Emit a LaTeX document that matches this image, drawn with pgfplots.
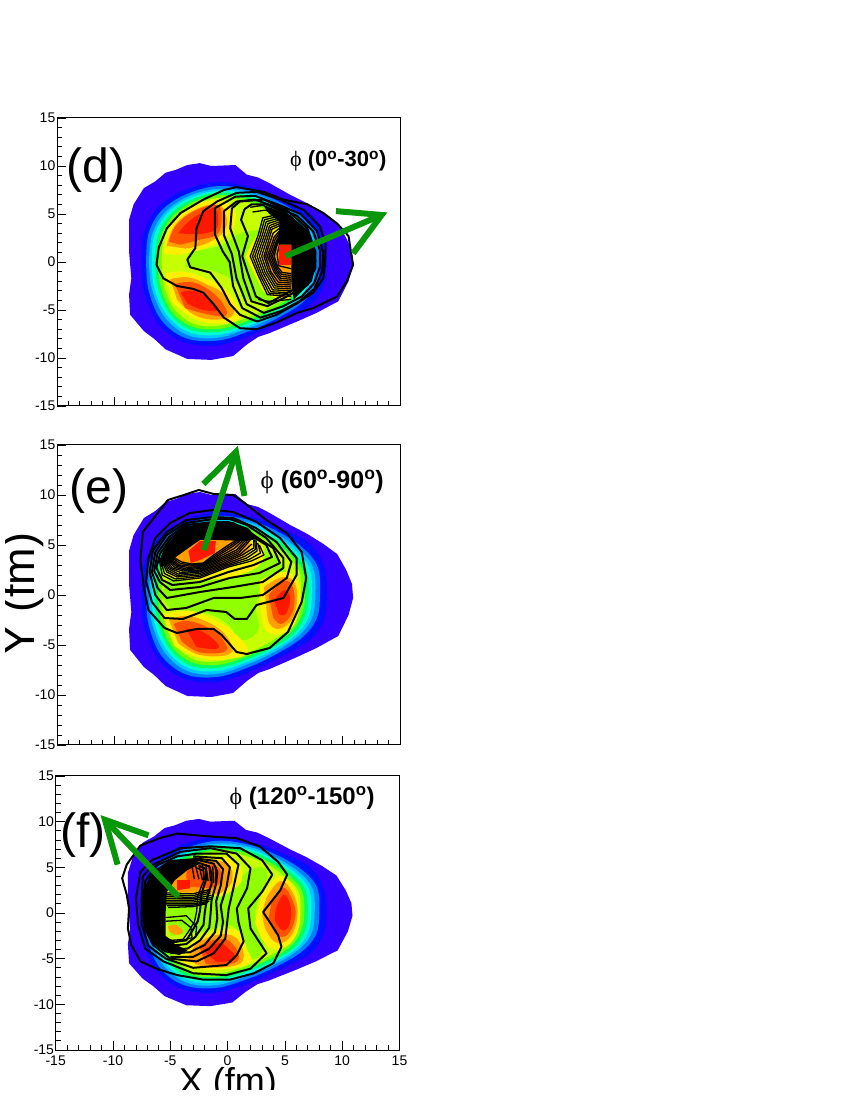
\documentclass[border=0pt]{standalone}
\usepackage{fontspec}
\setmainfont{Liberation Sans}
\newfontfamily\symf{Liberation Serif}
\usepackage{pgfplots}
\usepackage{pgfplotstable}
\pgfplotsset{compat=1.18}

\newcommand\fs[1]{\fontsize{#1}{#1}\selectfont}

% palette
\definecolor{c0}{HTML}{3300FF}
\definecolor{c1}{HTML}{0010FF}
\definecolor{c2}{HTML}{0080FF}
\definecolor{c3}{HTML}{00C8FF}
\definecolor{c4}{HTML}{00FFD0}
\definecolor{c5}{HTML}{00FF60}
\definecolor{c6}{HTML}{70FF00}
\definecolor{c7}{HTML}{C8FF00}
\definecolor{lime}{HTML}{90FF00}
\definecolor{yel}{HTML}{FFF000}
\definecolor{ora}{HTML}{FFA000}
\definecolor{ror}{HTML}{FF5000}
\definecolor{red1}{HTML}{FF1800}
\definecolor{arrowg}{HTML}{0A960A}

% contour levels shared by the three panels
\pgfplotstableread[row sep=\\]{x y\\ -8.7 4.4\\ -8.3 6\\ -7.4 7.7\\ -6.4 8.4\\ -5.5 9.3\\ -4.6 9.6\\ -3.6 10.1\\ -2.5 10.3\\ -1.5 10\\ 0.6 10.1\\ 1.6 9.1\\ 2.6 8.8\\ 3.6 8.2\\ 5.4 7\\ 6.9 6.1\\ 8.3 5.1\\ 9.5 4.1\\ 10.3 2.5\\ 10.8 1.1\\ 10.9 -0.3\\ 10.5 -2\\ 9.6 -4.1\\ 8.8 -4.6\\ 7.7 -5.3\\ 6 -6.2\\ 3.6 -7.4\\ 2.6 -7.8\\ 1.6 -8.6\\ 0.4 -9.8\\ -1.5 -10.2\\ -3.6 -10.1\\ -5.5 -9.1\\ -6.5 -8\\ -7.4 -7.2\\ -8.6 -5.5\\ -8.7 -3.4\\ -8.5 -1.7\\ -8.7 1.1\\ -8.7 4.4\\}\ringO
\pgfplotstableread[row sep=\\]{x y\\ -7.6 0\\ -7.4 3\\ -6.2 5.6\\ -4 7.4\\ -1 8.3\\ 2 7.8\\ 4.5 6.7\\ 7 5.2\\ 8.3 3\\ 8.6 0\\ 8.3 -2.6\\ 7 -4.6\\ 4.5 -6.2\\ 2 -7.6\\ -1 -8.7\\ -4 -8.3\\ -6.2 -6.3\\ -7.4 -3\\ -7.6 0\\}\ringA
\pgfplotstableread[row sep=\\]{x y\\ -7.2 0\\ -7 2.9\\ -5.9 5.3\\ -3.8 7\\ -1 7.9\\ 1.8 7.5\\ 4.2 6.4\\ 6.4 4.8\\ 7.8 2.8\\ 8 0\\ 7.7 -2.4\\ 6.4 -4.3\\ 4.2 -5.9\\ 1.8 -7.2\\ -1 -8.2\\ -3.8 -7.9\\ -5.9 -6\\ -7 -2.9\\ -7.2 0\\}\ringB
\pgfplotstableread[row sep=\\]{x y\\ -6.95 0\\ -6.7 2.8\\ -5.6 5.1\\ -3.6 6.8\\ -1 7.6\\ 1.7 7.3\\ 4 6.2\\ 6.1 4.6\\ 7.4 2.7\\ 7.6 0\\ 7.3 -2.3\\ 6.1 -4.1\\ 4 -5.7\\ 1.7 -6.9\\ -1 -7.9\\ -3.6 -7.6\\ -5.6 -5.7\\ -6.7 -2.8\\ -6.95 0\\}\ringC
\pgfplotstableread[row sep=\\]{x y\\ -6.7 0\\ -6.5 2.7\\ -5.4 5\\ -3.5 6.6\\ -1 7.4\\ 1.6 7.1\\ 3.9 6\\ 5.9 4.4\\ 7.1 2.6\\ 7.3 0\\ 7 -2.2\\ 5.9 -4\\ 3.9 -5.5\\ 1.6 -6.7\\ -1 -7.6\\ -3.5 -7.3\\ -5.4 -5.5\\ -6.5 -2.7\\ -6.7 0\\}\ringD
\pgfplotstableread[row sep=\\]{x y\\ -6.4 0\\ -6.2 2.6\\ -5.2 4.8\\ -3.4 6.4\\ -1 7.2\\ 1.5 6.9\\ 3.8 5.8\\ 5.7 4.2\\ 6.8 2.5\\ 7 0\\ 6.7 -2.1\\ 5.7 -3.9\\ 3.8 -5.3\\ 1.5 -6.5\\ -1 -7.3\\ -3.4 -7\\ -5.2 -5.3\\ -6.2 -2.6\\ -6.4 0\\}\ringE
\pgfplotstableread[row sep=\\]{x y\\ -6.15 0\\ -5.95 2.5\\ -5 4.6\\ -3.25 6.15\\ -1 6.95\\ 1.4 6.65\\ 3.6 5.6\\ 5.45 4\\ 6.5 2.4\\ 6.7 0\\ 6.4 -2\\ 5.45 -3.7\\ 3.6 -5.1\\ 1.4 -6.25\\ -1 -7\\ -3.25 -6.7\\ -5 -5.1\\ -5.95 -2.5\\ -6.15 0\\}\ringF
\pgfplotstableread[row sep=\\]{x y\\ -5.85 0\\ -5.65 2.4\\ -4.75 4.4\\ -3.1 5.9\\ -1 6.65\\ 1.3 6.35\\ 3.4 5.35\\ 5.15 3.8\\ 6.2 2.3\\ 6.35 0\\ 6.1 -1.9\\ 5.15 -3.5\\ 3.4 -4.85\\ 1.3 -5.95\\ -1 -6.65\\ -3.1 -6.4\\ -4.75 -4.85\\ -5.65 -2.4\\ -5.85 0\\}\ringG

\newcommand\lev[2]{\addplot[fill=#1,draw=none,smooth,tension=0.6] table {#2};}
\newcommand\blob[2]{\addplot[fill=#1,draw=none,smooth,tension=0.7] coordinates {#2} -- cycle;}
\newcommand\poly[2]{\addplot[fill=#1,draw=none] coordinates {#2} -- cycle;}
\newcommand\con[1]{\addplot[black,line width=2pt,line join=round] coordinates {#1};}
\newcommand\thin[1]{\addplot[black,line width=1.3pt,line join=round] coordinates {#1};}
\newcommand\arrowline[1]{\addplot[arrowg,line width=6pt,line join=miter] coordinates {#1};}
\newcommand\rings{\addplot[fill=c0,draw=none] table {\ringO};\lev{c1}{\ringA}\lev{c2}{\ringB}\lev{c3}{\ringC}\lev{c4}{\ringD}\lev{c5}{\ringE}\lev{c6}{\ringF}\lev{c7}{\ringG}}

\pgfplotsset{panel/.style={
  scale only axis,width=343pt,
  xmin=-15,xmax=15,ymin=-15,ymax=15,
  xtick={-15,-10,...,15},ytick={-15,-10,...,15},
  minor x tick num=4,minor y tick num=4,
  tick pos=left,tick align=inside,
  major tick length=9pt,minor tick length=5pt,
  tick style={black,line width=0.8pt},
  axis line style={line width=1pt},
  axis on top,
  clip mode=individual,
  /pgf/number format/assume math mode=true,
  ticklabel style={font=\fs{14}},
  yticklabel style={inner sep=1.5pt},
  xticklabel style={inner sep=6pt},
  anchor=south west,
}}

\begin{document}
\begin{tikzpicture}
\path[use as bounding box] (0,0) rectangle (850pt,1100pt);

% ---------- panel d
\begin{axis}[panel,at={(57pt,694pt)},height=288pt,xticklabels={}]
\rings
\blob{lime}{(-3.5,1) (-0.5,1.8) (1,3) (3,3.5) (5,5) (5,-3) (2,-4) (0.5,-2) (-1.5,-0.9) (-3.8,-0.5)}
\blob{yel}{(-5.6,0.9) (-5.2,3.5) (-3.3,5.7) (-1,6.4) (0.5,5.5) (0.4,3.5) (-1,2) (-3,1.1) (-4.5,0.7)}
\blob{ora}{(-5.4,1.7) (-4.7,3.8) (-3,5.4) (-1,6) (-0.2,4.8) (-0.4,3.2) (-2,1.9) (-3.8,1.4)}
\blob{ror}{(-5.2,2.1) (-4.6,3.8) (-3,5.3) (-1,5.9) (-0.6,4.6) (-1,2.9) (-2.6,2.3) (-4.2,1.8)}
\blob{red1}{(-4.4,3) (-3.4,4.3) (-2,5.3) (-1.1,5.5) (-1,3.6) (-2,3) (-3.4,2.9)}
\blob{yel}{(-5.5,-1.2) (-4,-1) (-2,-1.7) (-0.3,-2.8) (1,-5) (0.7,-6.1) (-1,-6.4) (-3,-5.9) (-4.9,-4.2)}
\blob{ora}{(-5.1,-1.8) (-3.5,-1.6) (-1.8,-2.4) (-0.5,-3.3) (0.5,-5.3) (-1,-6) (-3,-5.5) (-4.5,-3.9)}
\blob{ror}{(-4.7,-2.3) (-3.2,-2.1) (-1.6,-3) (-0.4,-4.5) (-0.3,-5.6) (-2,-5.4) (-3.8,-4.8)}
\blob{red1}{(-4.2,-3.2) (-3,-3) (-1.7,-3.9) (-0.9,-5) (-2.2,-5) (-3.5,-4.4)}
\blob{yel}{(1.5,0.6) (3,3.5) (5,4.5) (6,2) (6,-2) (5,-4) (3,-3)}
\blob{ora}{(3,0.6) (4,2.8) (5.5,3) (5.8,-3) (4,-2)}
% contour lines
\con{(10.9,-0.3) (10.35,-2) (9.5,-3.6) (7.4,-4.8) (6,-5.3) (4.2,-6.3) (2.5,-7) (1,-6.9) (-0.4,-5.8) (-1.3,-4.4) (-2.2,-3.2) (-3.1,-2.8) (-4.5,-2.5) (-5.7,-1.7) (-6.3,-0.3) (-6.1,1.5) (-5.4,3.5) (-4.2,5.1) (-2.2,6.5) (-0.4,7.5) (0.7,7.8) (3.1,7.3) (4.8,6.5) (6.9,6) (8.3,5.1) (9.5,4) (10.5,2.7) (10.7,1.1) (10.9,-0.3)}
\con{(8.45,0.1) (8.3,-1.7) (7.4,-3.2) (6,-4.3) (4.2,-5.5) (2.5,-6.2) (1,-5.5) (0.15,-4.4) (-0.6,-2.7) (-1.6,-1.1) (-3.35,-0.55) (-3.6,0.25) (-2.9,1.45) (-2.8,3.5) (-2.2,5.3) (-1,6.3) (0.7,7.2) (2.5,7.3) (4.5,6.5) (6.6,5.4) (8,3.7) (8.5,1.8) (8.45,0.1)}
\con{(-1.2,5.6) (-1.2,2.9) (-0.5,1.1) (0.1,0) (0.4,-2.5) (1.2,-4.8) (2.8,-5.8) (4.6,-5.1) (6.2,-4.1) (7.5,-2.8) (8.2,-1) (8.3,1) (7.7,3.3) (6.3,5) (4.3,6) (2.3,6.9) (0.6,6.8) (-1.2,5.6)}
\con{(-0.4,5.3) (-0.4,2.8) (0.3,0.8) (0.7,-1.7) (1.6,-4.4) (3.1,-5.3) (4.8,-4.6) (6.4,-3.6) (7.5,-2.2) (8,-0.5) (8,1.2) (7.4,3.2) (6,4.8) (4.2,5.7) (2.3,6.5) (0.7,6.3) (-0.4,5.3)}
\con{(0.3,5.6) (0.15,3.5) (0.9,1.1) (1.3,-1.7) (2,-4.1) (3.4,-4.6) (5.1,-3.6) (6.9,-2.4) (7.6,-0.6) (7.6,1.1) (6.9,3.5) (5.1,5.4) (3.1,6.5) (1,6.3) (0.3,5.6)}
\con{(1.4,5.5) (1.1,4.4) (1.7,2.7) (1.2,0.6) (1.7,-1.2) (2.4,-3.6) (3.5,-4.3) (5,-3.3) (6.8,-2.2) (7.5,-0.6) (7.5,1.1) (6.8,3.3) (5,5.1) (3.3,6) (2,6) (1.4,5.5)}
\thin{(1.9,5.7) (3,5.9) (4.5,5.2)}
\thin{(2.1,5.2) (3.2,5.4) (4.5,4.9)}
\thin{(2.6,-3.9) (3.5,-4.1) (5.5,-3.9)}
\thin{(4.5,5.0) (3,4.6) (2.6,2.8) (1.9,0.6) (2.6,-1.4) (3.4,-3.4) (5.5,-3.6)}
\thin{(4.5,4.8) (3.15,4.4) (2.75,2.7) (2.1,0.6) (2.75,-1.35) (3.55,-3.25) (5.5,-3.4)}
\thin{(4.5,4.6) (3.3,4.2) (2.9,2.6) (2.3,0.6) (2.9,-1.3) (3.7,-3.1) (5.5,-3.2)}
\thin{(4.5,4.4) (3.45,4) (3.05,2.5) (2.5,0.6) (3.05,-1.2) (3.85,-2.9) (5.5,-3)}
\thin{(4.5,4.2) (3.6,3.8) (3.2,2.4) (2.7,0.6) (3.2,-1.1) (4,-2.7) (5.5,-2.8)}
\thin{(4.5,4) (3.7,3.6) (3.35,2.3) (2.9,0.6) (3.35,-1) (4.1,-2.5) (5.5,-2.6)}
\thin{(4.5,3.8) (3.8,3.4) (3.5,2.2) (3.1,0.6) (3.5,-0.9) (4.2,-2.3) (5.5,-2.4)}
\thin{(4.5,3.55) (3.9,3) (3.45,1.4) (3.25,0.6) (3.7,-1) (4.35,-2.1) (5.5,-2.2)}
\thin{(4.5,3.3) (4,2.6) (3.4,0.6) (4,-1.1) (4.5,-1.9) (5.5,-2)}
\thin{(4.5,3.1) (4.1,2.4) (3.55,0.6) (4.1,-1) (4.55,-1.7) (5.5,-1.8)}
\thin{(4.5,2.9) (4.2,2.2) (3.7,0.6) (4.2,-0.9) (4.6,-1.5) (5.5,-1.6)}
\thin{(4.5,2.7) (4.2,1.9) (3.85,0.6) (4.25,-0.7) (4.65,-1.3) (5.5,-1.4)}
\thin{(4.5,2.5) (4.2,1.6) (4,0.6) (4.3,-0.5) (4.7,-1.1) (5.5,-1.2)}
\thin{(4.5,2) (4.25,0.8) (4.4,-0.4) (5.5,-0.7)}
\poly{black}{(3.1,5.8) (5.4,4.9) (7.1,2.8) (7.7,0.1) (7.3,-2) (5.7,-3.9) (5.5,-2) (5.5,1.8) (4.4,1.8) (4.45,4.2) (3.5,5.1)}
\poly{red1}{(4.4,1.8) (5.5,1.8) (5.5,-0.3) (4.4,-0.3)}
\arrowline{(5,0.6) (13.4,4.9)}
\arrowline{(9.4,5.3) (13.4,4.9) (10.9,0.9)}
\node[font=\fs{48}] at (axis cs:-11.6,9.6) {(d)};
\node[font=\fs{22}\bfseries] at (axis cs:9.6,10.5) {{\symf\mdseries ϕ} (0\textsuperscript{o}-30\textsuperscript{o})};
\end{axis}

% ---------- panel e
\begin{axis}[panel,at={(57pt,355pt)},height=300pt,xticklabels={}]
\rings
\blob{lime}{(-6,0) (-4,3) (0,6) (4,4) (5,1) (2.5,-0.5) (2.6,-3.5) (1,-4.5) (0,-3) (-2,-1.8) (-5,-1.5)}
\blob{yel}{(-5.7,-2) (-3.5,-1.6) (-1,-2.6) (0.7,-4) (1.7,-5.7) (0,-6.4) (-2.5,-6.3) (-4.7,-5.1)}
\blob{ora}{(-5.2,-2.5) (-3.5,-2.1) (-1.2,-3.1) (0.1,-4.6) (0.1,-5.9) (-2.5,-6) (-4.4,-4.8)}
\blob{ror}{(-4.8,-2.9) (-3.5,-2.6) (-1.4,-3.5) (-0.3,-4.8) (-0.4,-5.7) (-2.6,-5.7) (-4.1,-4.6)}
\blob{red1}{(-3.7,-3.4) (-2.4,-3.6) (-1,-4.8) (-1.1,-5.4) (-2.8,-5.2)}
\blob{yel}{(2.7,1.4) (4.8,2.3) (6.1,1.2) (6.1,-2) (4.9,-3.8) (3.3,-3.5) (2.8,-1)}
\blob{ora}{(3.1,0.8) (4.8,1.8) (5.9,0.9) (5.8,-1.8) (4.7,-3.3) (3.6,-2.9) (3.3,-0.8)}
\blob{ror}{(3.5,0) (4.9,1.4) (5.7,0.5) (5.6,-1.7) (4.6,-2.9) (3.9,-2.2)}
\blob{red1}{(4,-0.5) (4.9,0.5) (5.4,-0.4) (5,-1.9) (4.4,-1.9)}
\blob{yel}{(-5.5,2) (-4,5.5) (2,5.5) (3,3.5) (1,2) (-2,1.5) (-4,1.5)}
\blob{ora}{(-5,3) (-4,5.5) (1.5,5.5) (1,3.5) (-1,2.5) (-3,2.2)}
\con{(-5.3,9.5) (-7.5,6.3) (-7.7,3.5) (-7.4,0.7) (-7,-1.5) (-5.6,-3.3) (-4.5,-3.8) (-2.8,-3.4) (-1.3,-3.4) (-0.6,-4) (0.7,-5.7) (1.6,-5.9) (3.6,-5.3) (5.2,-3.7) (6.4,-0.7) (6.8,1.7) (6.4,4.3) (5.1,6.2) (3.3,7.5) (1.3,9.3) (0.4,10) (-1.3,10.1) (-2.6,10.5) (-3.9,10) (-5.3,9.5)}
\con{(-1.3,8.5) (-3.4,8.2) (-5.1,7.2) (-6.4,5.7) (-7,3.7) (-7.2,1.3) (-6.7,-0.7) (-5.6,-2.3) (-4,-2.4) (-1.9,-1.5) (-0.2,-1.7) (0.55,-2.4) (1.6,-2.4) (2.45,-1) (4.8,-0.3) (5.95,2) (5.95,3.7) (4.5,5.7) (2.45,7.3) (0.4,8.3) (-1.3,8.5)}
\con{(-1.3,7.8) (-3.7,7.5) (-5.4,6.3) (-6.6,4.5) (-6.9,2.3) (-6.4,0) (-5.4,-1.5) (-3.7,-1.3) (-1.3,-0.3) (1,-0.3) (3,0) (5.1,1.7) (5.5,3.3) (4.2,5.3) (2.4,6.7) (0.4,7.7) (-1.3,7.8)}
\con{(-1.3,7.6) (-3.7,7.2) (-5.4,6) (-6.4,4.3) (-6.7,2.3) (-6.2,0.7) (-5.4,-0.3) (-2.5,0.3) (0.4,0.8) (3,1.3) (4.8,2.7) (4.8,3.7) (3.3,5.7) (1.6,7) (0.1,7.6) (-1.3,7.6)}
\con{(-1.3,7.3) (-3.7,7) (-5.2,5.8) (-6.2,4.2) (-6.5,2.4) (-6,1.3) (-5.1,0.5) (-2.5,0.8) (0.1,1.7) (2.7,2.2) (4.5,3.2) (3.9,4.7) (2.2,6) (0.4,7.2) (-1.3,7.3)}
\con{(-1.3,7.1) (-3.7,6.8) (-5.1,5.6) (-6,4.1) (-6.3,2.7) (-5.8,1.5) (-4.9,1) (-2.5,1.3) (0,2.3) (2.2,3) (3.8,3.8) (3.3,5) (1.9,6) (0.3,6.9) (-1.3,7.1)}
\thin{(-6.1,3.8) (-5.8,2) (-4.8,1.4) (-2.5,1.7) (0,2.8) (2,3.4) (3.1,4) (2.7,5)}
\thin{(-6,3.7) (-5.6,2.15) (-4.65,1.6) (-2.5,1.85) (-0.1,2.9) (1.8,3.55) (2.8,4.2) (2.55,5.2)}
\thin{(-5.9,3.6) (-5.4,2.3) (-4.5,1.8) (-2.5,2) (-0.2,3) (1.6,3.7) (2.5,4.4) (2.4,5.5)}
\thin{(-5.8,3.6) (-5.3,2.45) (-4.45,1.95) (-2.5,2.15) (-0.3,3.1) (1.4,3.85) (2.35,4.55) (2.3,5.5)}
\thin{(-5.7,3.6) (-5.2,2.6) (-4.4,2.1) (-2.5,2.3) (-0.4,3.2) (1.2,4) (2.2,4.7) (2.2,5.5)}
\thin{(-5.6,3.6) (-5.05,2.65) (-4.2,2.25) (-2.5,2.4) (-0.55,3.3) (1.05,4.1) (2.05,5.1)}
\thin{(-5.5,3.6) (-4.9,2.7) (-4,2.4) (-2.5,2.5) (-0.7,3.4) (0.9,4.2) (1.9,5.5)}
\thin{(-5.4,3.6) (-4.75,2.8) (-3.85,2.5) (-2.45,2.65) (-0.8,3.5) (0.8,4.35) (1.7,5.5)}
\thin{(-5.3,3.6) (-4.6,2.9) (-3.7,2.6) (-2.4,2.8) (-0.9,3.6) (0.7,4.5) (1.5,5.5)}
\thin{(-5.15,3.6) (-4.45,2.95) (-3.55,2.75) (-2.35,2.9) (-1,3.7) (0.5,4.65) (1.3,5.5)}
\thin{(-5,3.6) (-4.3,3) (-3.4,2.9) (-2.3,3) (-1.1,3.8) (0.3,4.8) (1.1,5.5)}
\thin{(-4.85,3.65) (-4.2,3.15) (-3.3,3) (-2.25,3.1) (-1.2,3.9) (0.15,4.9) (0.9,5.5)}
\thin{(-4.7,3.7) (-4.1,3.3) (-3.2,3.1) (-2.2,3.2) (-1.3,4) (0,5) (0.7,5.5)}
\poly{black}{(-6,3.6) (-5.5,5) (-4,6.6) (-2,7.3) (0,7.4) (1.7,6.7) (2.6,5.6) (1.5,5.4) (-1,5.5) (-2.5,5.5) (-3.5,4.7) (-4.6,3.8) (-5.1,3.2) (-5.9,2.8)}
\poly{red1}{(-2.5,5.4) (-1.1,5.4) (-1.2,4.2) (-2.5,3.5) (-3.3,3.2) (-3.5,4.4)}
\arrowline{(-2.15,4.5) (0.65,14.3)}
\arrowline{(-2.2,11.1) (0.65,14.3) (1.4,9.9)}
\node[font=\fs{48}] at (axis cs:-11.3,10.4) {(e)};
\node[font=\fs{25}\bfseries] at (axis cs:8.2,11.3) {{\symf\mdseries ϕ} (60\textsuperscript{o}-90\textsuperscript{o})};
\end{axis}

% ---------- panel f
\begin{axis}[panel,at={(55.7pt,50pt)},height=274pt,width=343.8pt]
\rings
\blob{lime}{(-5.5,1) (-3,1) (0,3) (2.5,5) (3.5,4) (2.4,0) (3.2,-3.4) (2,-5) (0.5,-1.5) (-2,-2) (-5,-2.5)}
\blob{yel}{(3,2) (4.5,4) (5.8,2.7) (6.3,0) (5.9,-2.6) (4.5,-4) (3.2,-3.2) (2.4,-1)}
\blob{ora}{(3.4,1.7) (4.6,3.5) (5.7,2.2) (6.1,0) (5.6,-2.4) (4.4,-3.3) (3.4,-2) (3,0)}
\blob{ror}{(3.8,1) (4.8,2.8) (5.7,1.3) (5.9,-0.5) (5.2,-2.4) (4.2,-2.3) (3.6,-0.5)}
\blob{red1}{(4.2,0.4) (4.9,2) (5.5,0.7) (5.4,-1.2) (4.8,-1.9) (4.1,-0.8)}
\blob{yel}{(-3.2,-3.3) (-1,-2) (1,-2) (1.7,-4) (2,-5.4) (0,-6.1) (-2.5,-6.1) (-4.2,-5.1)}
\blob{ora}{(-2.8,-3.4) (-1,-2.4) (0.7,-2.7) (1.4,-4.8) (0.5,-5.8) (-2,-5.9) (-3.5,-5)}
\blob{ror}{(-2.5,-3.6) (-1,-2.9) (0.2,-3.1) (1,-4.8) (0.2,-5.6) (-1.9,-5.6)}
\blob{red1}{(-2.2,-4.1) (-0.8,-3.3) (0,-3.8) (0.7,-5) (-0.9,-5.4)}
\blob{yel}{(-5.4,2.2) (-5,4.2) (-3,5.8) (0.4,5.9) (1.2,3.5) (-0.5,1.8)}
\blob{ora}{(-4.6,2.3) (-4.8,3.8) (-3,5.5) (-0.2,5.5) (0.4,3.5) (-0.7,2.1)}
\blob{ror}{(-3.4,2.9) (-3.4,4.8) (-1,5.2) (-0.6,3.4) (-1.6,2.7)}
\con{(-7.6,7.4) (-8.8,5.3) (-9.2,3.8) (-8.8,2) (-8.6,0.5) (-8.7,-1.7) (-8.4,-3.5) (-7.6,-5.3) (-6.2,-6.1) (-4.4,-6.8) (-2.1,-7.3) (0.2,-7.3) (2.3,-6.6) (4,-5.5) (4.7,-3.7) (4.4,-2.4) (3.1,0.1) (4.6,2.5) (5.2,4.2) (4.4,5.6) (2.8,7.3) (0.8,8.2) (-1.8,8.4) (-4.4,8.7) (-5.9,8.2) (-7.6,7.4)}
\con{(-6.6,5.8) (-7.6,4.5) (-8,1.6) (-7.8,-1.3) (-7.2,-3.9) (-5.6,-5.3) (-3,-6.6) (-0.1,-6.8) (2,-6.1) (3.4,-4.4) (2,-1.7) (1.8,0.5) (3,2.3) (3.9,4.2) (3,5.8) (1.1,7.1) (-1.5,7.3) (-4.1,7.1) (-6.6,5.8)}
\con{(-7.4,4) (-7.5,1.5) (-7.5,-1.2) (-6.9,-3.6) (-5.4,-5) (-3,-6) (-0.1,-5.7) (0.8,-4.6) (1.4,-3.1) (0.95,-1) (0.8,0.5) (1.7,2.7) (2,4.9) (0.8,6.5) (-1.5,7.1) (-4.1,6.7) (-6.5,5.3) (-7.4,4)}
\con{(-7.2,3.5) (-6.2,5.2) (-4.4,6.2) (-2.7,6.5) (-0.1,6.5) (0.95,5.3) (0.5,2.7) (0.1,0.5) (-0.1,-1.7) (-0.2,-2.8) (-1.2,-4.4) (-2.7,-5.3) (-5,-5) (-6.5,-3.5) (-7.2,-1.7) (-7.3,0.9) (-7.2,3.5)}
\con{(-3,6.2) (-0.5,6) (0.2,5) (-0.1,2.8) (-0.6,0.8) (-0.4,-1) (-0.6,-2.5) (-1.6,-3.9) (-3,-4.8) (-5,-4.8)}
\con{(-3,6) (-1,5.7) (-0.4,4.8) (-0.6,3) (-1,1.3) (-0.9,-0.6) (-1.1,-2.1) (-2,-3.5) (-3.3,-4.3) (-5,-4.4)}
\con{(-3,5.9) (-1.2,5.4) (-0.9,4.5) (-1,3.2) (-1.4,1.4) (-1.5,-0.3) (-1.6,-1.6) (-2.4,-3) (-3.5,-3.9) (-5,-4)}
\con{(-3,5.7) (-1.6,5.1) (-1.4,4.3) (-1.4,3.2) (-1.8,1.6) (-2,0) (-2.1,-1.3) (-2.8,-2.6) (-3.6,-3.4) (-5,-3.6)}
\con{(-2.5,5.2) (-1.9,4.8) (-1.9,3.6) (-2.3,2) (-2.4,0.3) (-2.6,-0.9) (-3.2,-2.2) (-3.6,-3) (-5,-3.2)}
\thin{(-2.8,5) (-2.1,4.6) (-2.1,3.5) (-2.6,1.9) (-2.7,0.2) (-2.9,-1) (-3.5,-2.2) (-3.9,-2.9) (-5,-3)}
\thin{(-5.4,2.2) (-3,2.1) (-1.5,2.6)}
\thin{(-5.4,2) (-3,1.9) (-1.5,2.4)}
\thin{(-5.4,1.8) (-3,1.7) (-1.5,2.2)}
\thin{(-5.4,1.6) (-3,1.55) (-1.4,1.95)}
\thin{(-5.4,1.4) (-3,1.4) (-1.3,1.7)}
\thin{(-5.4,1.2) (-3,1.2) (-1.4,1.5)}
\thin{(-5.4,1) (-3,1) (-1.6,1.3)}
\thin{(-5.3,0.8) (-3,0.85) (-1.7,1.15)}
\thin{(-5.2,0.6) (-3,0.7) (-1.9,1)}
\thin{(-3.1,5.1) (-2.9,3.7)}
\thin{(-2.8,5.2) (-2.5,3.7)}
\thin{(-2.5,5.3) (-2.2,3.6)}
\thin{(-2.2,5.3) (-2,3.6)}
\thin{(-1.9,5.3) (-1.7,3.5)}
\thin{(-1.6,5.2) (-1.5,3.5)}
\thin{(-1.3,5.1) (-1.2,3.3)}
\thin{(-1,5) (-1,3.2)}
\thin{(-5.4,-0.9) (-4,-0.8) (-3.2,-1.6) (-3.1,-2.7) (-4.5,-3.2) (-5.4,-2.7)}
\thin{(-5.4,-0.5) (-3.6,-0.3) (-2.7,-1.5) (-2.8,-2.6)}
\poly{black}{(-7.5,0.5) (-7.4,2.5) (-6.5,4.6) (-5,5.8) (-3,6) (-2.4,5.4) (-3.5,4.7) (-4.6,3.6) (-5.3,2.3) (-5.4,0.2) (-5.4,-2.5) (-4.6,-3.4) (-3.5,-4.1) (-4.2,-4.6) (-5.5,-4.3) (-6.7,-3.2) (-7.3,-1.6)}
\poly{red1}{(-4.4,3.6) (-3.3,3.6) (-3.3,2.7) (-4.4,2.5)}
\blob{ora}{(-5.2,-1.5) (-4.5,-1.3) (-3.9,-2) (-4.4,-2.4) (-5.1,-2)}
\arrowline{(-4.3,1.8) (-10.7,10.2)}
\arrowline{(-6.9,8.5) (-10.7,10.2) (-9.6,5.3)}
\node[font=\fs{48}] at (axis cs:-12.6,8.5) {(f)};
\node[font=\fs{24}\bfseries] at (axis cs:6.5,12.6) {{\symf\mdseries ϕ} (120\textsuperscript{o}-150\textsuperscript{o})};
\end{axis}

% shared axis titles, cut by the page edge as in the original
\node[font=\fs{45},rotate=90,anchor=base] at (35pt,506pt) {Y (fm)};
\node[font=\fs{36},anchor=base] at (228pt,6pt) {X (fm)};
\fill[white] (0,0) rectangle (850pt,10pt);
\fill[white] (0,0) rectangle (5pt,1100pt);
\end{tikzpicture}
\end{document}
